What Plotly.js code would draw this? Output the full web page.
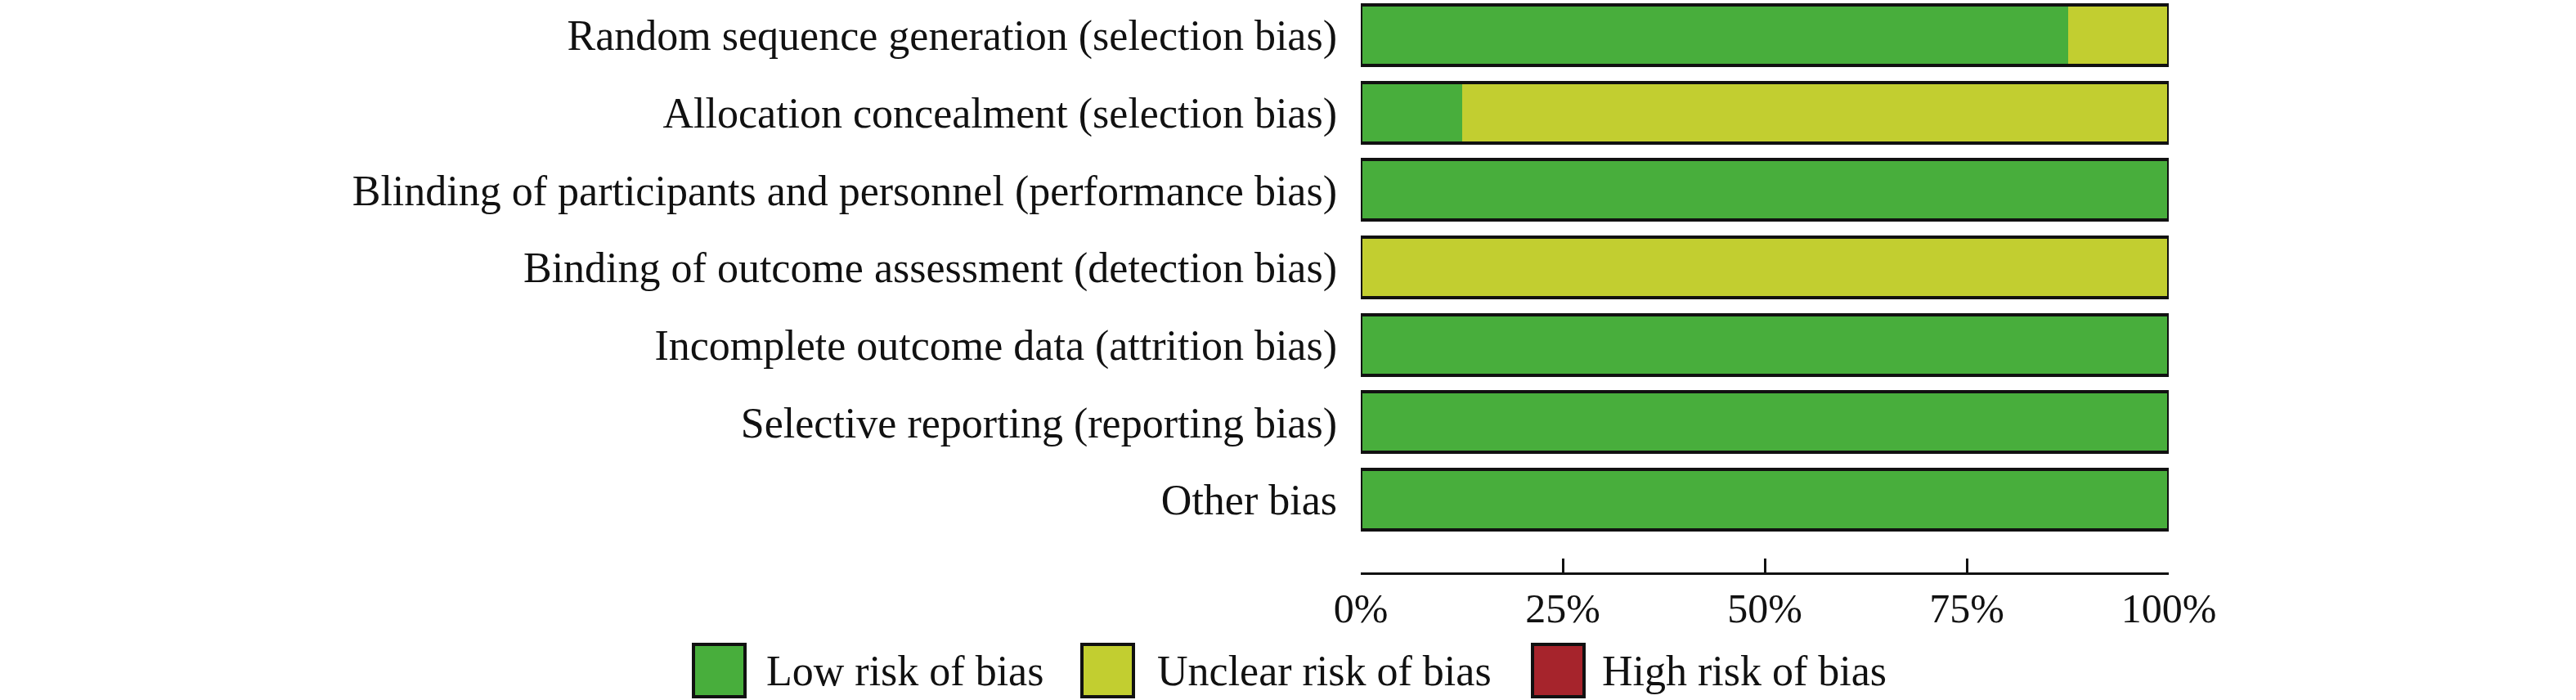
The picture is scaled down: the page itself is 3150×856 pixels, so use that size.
<!DOCTYPE html>
<html>
<head>
<meta charset="utf-8">
<script src="https://cdn.plot.ly/plotly-3.0.1.min.js"></script>
<style>
  html, body { margin: 0; padding: 0; background: #fff; }
  #chart { width: 3150px; height: 856px; }
</style>
</head>
<body>
<div id="chart"></div>
<script>
// ---- data ----
const categories = [
  "Random sequence generation (selection bias)",
  "Allocation concealment (selection bias)",
  "Blinding of participants and personnel (performance bias)",
  "Binding of outcome assessment (detection bias)",
  "Incomplete outcome data (attrition bias)",
  "Selective reporting (reporting bias)",
  "Other bias"
];
const lowRisk     = [87.5, 12.5, 100, 0,   100, 100, 100];
const unclearRisk = [12.5, 87.5, 0,   100, 0,   0,   0];
const highRisk    = [0,    0,    0,   0,   0,   0,   0];
const xTickValues = [0, 25, 50, 75, 100];
const xTickLabels = ["0%", "25%", "50%", "75%", "100%"];
const seriesNames = ["Low risk of bias", "Unclear risk of bias", "High risk of bias"];

// ---- styles ----
const colors = ["#48AE3C", "#C2CE30", "#A6242C"];
const FONT = "Liberation Serif, Times New Roman, serif";
const W = 3150, H = 856;
const M = { l: 1664, r: 498, t: 0, b: 156 };
const plotW = W - M.l - M.r, plotH = H - M.t - M.b;
const px2x = p => (p - M.l) / plotW;
const py2y = p => 1 - (p - M.t) / plotH;
const yRange = [6.94, -0.454];
const barWidth = 0.78;

const seriesValues = [lowRisk, unclearRisk, highRisk];
const totals = categories.map((_, i) => lowRisk[i] + unclearRisk[i] + highRisk[i]);

const traces = seriesValues.map((vals, k) => ({
  type: "bar",
  orientation: "h",
  name: seriesNames[k],
  x: vals,
  y: categories,
  width: barWidth,
  marker: { color: colors[k], line: { width: 0 } },
  hoverinfo: "skip",
  showlegend: false,
  xaxis: "x", yaxis: "y"
}));

// outline around each whole bar
traces.push({
  type: "bar",
  orientation: "h",
  x: totals,
  y: categories,
  width: barWidth,
  marker: { color: "rgba(0,0,0,0)", line: { width: 4, color: "#111" } },
  hoverinfo: "skip",
  showlegend: false,
  xaxis: "x", yaxis: "y2"
});

// custom legend (boxes + labels)
const legendBoxLeft = [848, 1323, 1874];
const legendTextLeft = [935, 1413, 1957];
const boxW = 63, boxTop = 788, boxBottom = 852;
const shapes = [], annotations = [];
seriesNames.forEach((nm, k) => {
  shapes.push({
    type: "rect", xref: "paper", yref: "paper",
    x0: px2x(legendBoxLeft[k]), x1: px2x(legendBoxLeft[k] + boxW),
    y0: py2y(boxBottom), y1: py2y(boxTop),
    fillcolor: colors[k], line: { color: "#111", width: 4 }
  });
  annotations.push({
    xref: "paper", yref: "paper",
    x: px2x(legendTextLeft[k]), y: py2y((boxTop + boxBottom) / 2),
    xanchor: "left", yanchor: "middle",
    text: nm, showarrow: false,
    font: { family: FONT, size: 52, color: "#111" }
  });
});

const layout = {
  width: W, height: H,
  margin: M,
  paper_bgcolor: "#fff", plot_bgcolor: "#fff",
  barmode: "stack",
  showlegend: false,
  xaxis: {
    range: [0, 100],
    tickvals: xTickValues, ticktext: xTickLabels,
    ticks: "inside", ticklen: 17, tickwidth: 3, tickcolor: "#111",
    showline: true, linewidth: 3, linecolor: "#111",
    showgrid: false, zeroline: false,
    ticklabelstandoff: -2,
    tickfont: { family: FONT, size: 50, color: "#111" },
    fixedrange: true
  },
  yaxis: {
    type: "category",
    categoryorder: "array", categoryarray: categories,
    range: yRange,
    ticks: "", showline: false, showgrid: false, zeroline: false,
    ticklabelstandoff: 28,
    tickfont: { family: FONT, size: 52, color: "#111" },
    fixedrange: true
  },
  yaxis2: {
    type: "category",
    categoryorder: "array", categoryarray: categories,
    range: yRange,
    overlaying: "y",
    showticklabels: false, ticks: "", showline: false, showgrid: false, zeroline: false,
    fixedrange: true
  },
  shapes: shapes,
  annotations: annotations
};

Plotly.newPlot("chart", traces, layout, { displayModeBar: false, staticPlot: true });
</script>
</body>
</html>
